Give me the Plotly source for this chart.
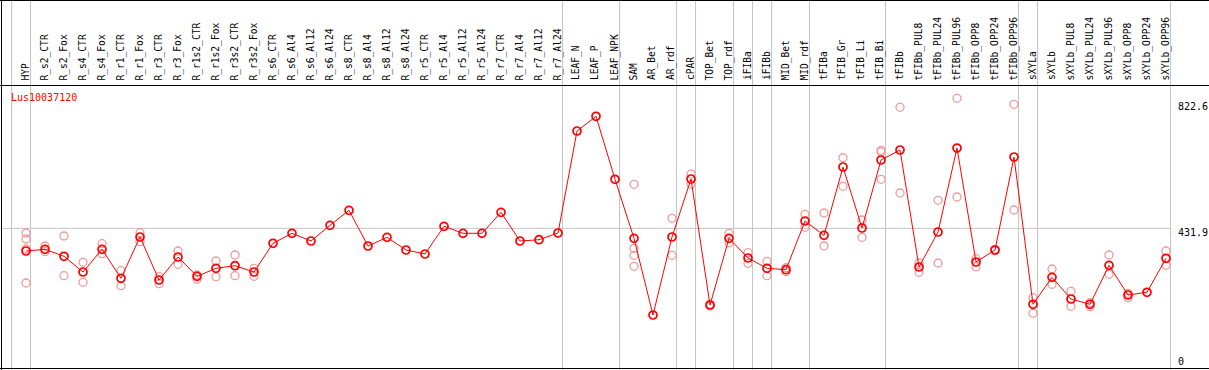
import plotly.graph_objects as go

# ---------------- data ----------------
categories = [
    "HYP", "R_s2_CTR", "R_s2_Fox", "R_s4_CTR", "R_s4_Fox", "R_r1_CTR", "R_r1_Fox",
    "R_r3_CTR", "R_r3_Fox", "R_r1s2_CTR", "R_r1s2_Fox", "R_r3s2_CTR", "R_r3s2_Fox",
    "R_s6_CTR", "R_s6_Al4", "R_s6_Al12", "R_s6_Al24", "R_s8_CTR", "R_s8_Al4",
    "R_s8_Al12", "R_s8_Al24", "R_r5_CTR", "R_r5_Al4", "R_r5_Al12", "R_r5_Al24",
    "R_r7_CTR", "R_r7_Al4", "R_r7_Al12", "R_r7_Al24", "LEAF_N", "LEAF_P", "LEAF_NPK",
    "SAM", "AR_Bet", "AR_rdf", "cPAR", "TOP_Bet", "TOP_rdf", "iFIBa", "iFIBb",
    "MID_Bet", "MID_rdf", "tFIBa", "tFIB_Gr", "tFIB_Li", "tFIB_Bi", "tFIBb",
    "tFIBb_PUL8", "tFIBb_PUL24", "tFIBb_PUL96", "tFIBb_OPP8", "tFIBb_OPP24",
    "tFIBb_OPP96", "sXYLa", "sXYLb", "sXYLb_PUL8", "sXYLb_PUL24", "sXYLb_PUL96",
    "sXYLb_OPP8", "sXYLb_OPP24", "sXYLb_OPP96",
]

means = [
    361.8, 367.0, 345.4, 296.8, 367.0, 277.4, 405.1,
    272.1, 343.2, 283.5, 308.3, 316.3, 296.8,
    385.6, 416.5, 392.7, 441.2, 487.6, 377.2,
    404.1, 364.9, 352.5, 438.1, 416.5, 416.5,
    481.4, 392.7, 396.7, 417.4, 732.8, 778.3, 583.5,
    401.0, 163.9, 405.1, 584.4, 194.8, 401.0, 340.1, 308.3,
    303.9, 454.5, 410.3, 621.5, 432.9, 643.1, 674.1,
    312.3, 420.5, 680.2, 327.8, 364.9,
    652.4, 197.0, 280.4, 213.3, 197.0, 317.5,
    225.7, 234.1, 339.2,
]

replicates = [
    [417.4, 398.9, 367.9, 262.8], [377.2, 359.6], [408.1, 285.4], [326.8, 265.0],
    [384.3, 353.4], [300.9, 254.5], [418.3, 390.5],
    [282.3, 260.7], [361.8, 320.6], [287.6, 274.3], [330.8, 282.3], [349.4, 285.4],
    [308.3, 283.5],
    [], [], [], [], [], [],
    [], [], [], [], [], [],
    [], [], [], [], [], [], [],
    [568.0, 370.1, 348.5, 314.5], [], [462.9, 348.5], [599.8, 568.0], [197.0, 192.0],
    [416.5, 387.4], [356.5, 323.7], [329.9, 285.4],
    [310.0, 298.0], [475.2, 435.0], [479.3, 377.2], [650.2, 561.8], [457.6, 404.1],
    [673.1, 668.0, 583.5], [806.1, 541.1],
    [324.7, 295.9], [518.5, 324.7], [833.9, 528.7], [338.0, 313.2], [367.0, 363.0],
    [815.4, 488.5], [217.4, 169.1], [306.1, 258.8], [237.2, 190.8], [201.9, 189.5],
    [349.4, 289.7],
    [231.0, 217.4], [], [361.8, 317.5],
]

group_sizes = [1, 28, 3, 3, 1, 2, 1, 1, 2, 4, 7, 1, 7]
gene_name = "Lus10037120"
ref_value = 431.9
top_label = 822.6

# ---------------- layout helpers ----------------
W, H = 1209, 370
X0_PX, STEP_PX = 26.0, 19.0          # pixel of first category, spacing
Y0_PX, YTOP_PX, YTOP_VAL = 368.0, 86.0, 872.0
K = YTOP_VAL / (Y0_PX - YTOP_PX)      # value per pixel


def py(p):
    return 1 - p / H


def pxp(p):
    return p / W


idx = list(range(len(categories)))

fig = go.Figure()

rx, ry = [], []
for i, reps in enumerate(replicates):
    for v in reps:
        rx.append(i)
        ry.append(v)

fig.add_trace(go.Scatter(
    x=rx, y=ry, mode="markers",
    marker=dict(symbol="circle-open", size=8, color="#f09a9a",
                line=dict(width=1.3, color="#f09a9a")),
    hoverinfo="skip", showlegend=False,
))

fig.add_trace(go.Scatter(
    x=idx, y=means, mode="lines+markers",
    line=dict(color="#ff0000", width=1),
    marker=dict(symbol="circle-open", size=8, color="#ff0000",
                line=dict(width=1.7, color="#ff0000")),
    text=categories, showlegend=False,
))

shapes = []
# group separators
ends = [-1]
acc = -1
for g in group_sizes:
    acc += g
    ends.append(acc)
for e in ends:
    shapes.append(dict(type="line", xref="x", yref="paper",
                       x0=e + 0.24, x1=e + 0.24, y0=0, y1=1,
                       line=dict(color="#c4c4c4", width=1), layer="below"))
# reference gridline
shapes.append(dict(type="line", xref="paper", yref="y",
                   x0=pxp(1), x1=pxp(1170.5), y0=ref_value, y1=ref_value,
                   line=dict(color="#c4c4c4", width=1), layer="below"))
# black frame lines
for yp in (0.5, 85.5, 368.5):
    shapes.append(dict(type="line", xref="paper", yref="paper",
                       x0=0, x1=1, y0=py(yp), y1=py(yp),
                       line=dict(color="black", width=1)))
shapes.append(dict(type="line", xref="paper", yref="paper",
                   x0=pxp(1.5), x1=pxp(1.5), y0=0, y1=1,
                   line=dict(color="black", width=1)))

annotations = []
for i, c in enumerate(categories):
    annotations.append(dict(
        x=i - 0.05, xref="x", y=py(82.5), yref="paper",
        text=c, textangle=-90, showarrow=False,
        xanchor="center", yanchor="bottom",
        font=dict(family="DejaVu Sans Mono", size=9.6, color="black"),
    ))

annotations.append(dict(
    x=pxp(9), xref="paper", y=py(98), yref="paper", text=gene_name,
    showarrow=False, xanchor="left", yanchor="middle",
    font=dict(family="DejaVu Sans Mono", size=10, color="#ff0000"),
))
for val, ypix in ((top_label, 107), (ref_value, 232), (0, 361)):
    annotations.append(dict(
        x=pxp(1176), xref="paper", y=py(ypix), yref="paper",
        text=str(val) if val else "0",
        showarrow=False, xanchor="left", yanchor="middle",
        font=dict(family="DejaVu Sans Mono", size=10, color="black"),
    ))

fig.update_layout(
    width=W, height=H, autosize=False,
    margin=dict(l=0, r=0, t=0, b=0, pad=0),
    paper_bgcolor="white", plot_bgcolor="white",
    xaxis=dict(range=[-X0_PX / STEP_PX, (W - X0_PX) / STEP_PX],
               showgrid=False, zeroline=False, showticklabels=False,
               fixedrange=True),
    yaxis=dict(range=[-(H - Y0_PX) * K, Y0_PX * K],
               showgrid=False, zeroline=False, showticklabels=False,
               fixedrange=True),
    shapes=shapes, annotations=annotations,
)

fig.write_html(
    "out.html",
    config={"displayModeBar": False},
    post_script="document.body.style.margin='0';document.body.style.padding='0';"
                "document.body.style.overflow='hidden';",
)
